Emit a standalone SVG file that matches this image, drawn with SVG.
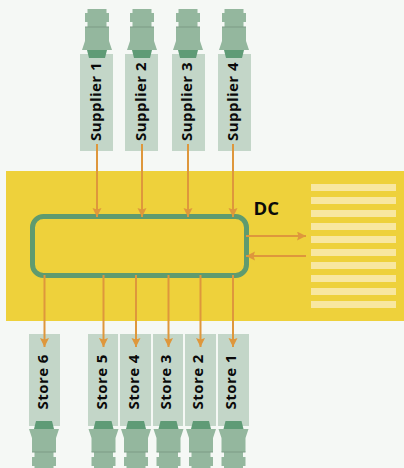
<svg xmlns="http://www.w3.org/2000/svg" width="404" height="468" viewBox="0 0 404 468">
<style>
.bg{fill:#f5f8f5}
.yard{fill:#eed13b}
.stripe{fill:#f8e7a0}
.box{fill:#c3d6c8}
.dock{fill:none;stroke:#5f9b6f;stroke-width:5}
.t{fill:#94b79e}
.c{fill:#5f9b76}
.l{fill:none;stroke:#7d9b85;stroke-width:1}
.lab{font:700 15px "Open Sans","Noto Sans",sans-serif;fill:#0a0a0a;letter-spacing:.45px}
.dc{font:700 18.500px "Open Sans","Noto Sans",sans-serif;fill:#0a0a0a}
.a{fill:none;stroke:#de973c;stroke-width:2;marker-end:url(#ah)}
</style>
<defs>
<marker id="ah" markerUnits="userSpaceOnUse" markerWidth="10" markerHeight="10" refX="9" refY="4.500" orient="auto"><path d="M0 0L9 4.500L0 9L1.500 4.500Z" fill="#de973c"/></marker>
<g id="truck">
<path class="t" d="M-9.500 9H9.500V13H12V22H9.500V27H-9.500V22H-12V13H-9.500Z"/>
<path class="t" d="M-12 27H12V41L15 50H-15L-12 41Z"/>
<path class="c" d="M-10 50H10L8 58H-8Z"/>
<path class="l" d="M-12 27H12"/>
</g>
</defs>
<rect class="bg" width="404" height="468"/>
<g id="dc">
<rect class="yard" x="6" y="171" width="398" height="150"/>
<rect class="stripe" x="311" y="184" width="85" height="7"/>
<rect class="stripe" x="311" y="197" width="85" height="7"/>
<rect class="stripe" x="311" y="210" width="85" height="7"/>
<rect class="stripe" x="311" y="223" width="85" height="7"/>
<rect class="stripe" x="311" y="236" width="85" height="7"/>
<rect class="stripe" x="311" y="249" width="85" height="7"/>
<rect class="stripe" x="311" y="262" width="85" height="7"/>
<rect class="stripe" x="311" y="275" width="85" height="7"/>
<rect class="stripe" x="311" y="288" width="85" height="7"/>
<rect class="stripe" x="311" y="301" width="85" height="7"/>
<rect class="dock" x="32.500" y="216.500" width="214" height="59" rx="11"/>
<text class="dc" x="253.500" y="215">DC</text>
</g>
<g id="supplier1"><rect class="box" x="80" y="54" width="33" height="97"/><use href="#truck" transform="translate(97,0)"/><text class="lab" transform="translate(100.500,141) rotate(-90)">Supplier 1</text></g>
<g id="supplier2"><rect class="box" x="125" y="54" width="33" height="97"/><use href="#truck" transform="translate(142,0)"/><text class="lab" transform="translate(145.500,141) rotate(-90)">Supplier 2</text></g>
<g id="supplier3"><rect class="box" x="172" y="54" width="33" height="97"/><use href="#truck" transform="translate(188,0)"/><text class="lab" transform="translate(191.500,141) rotate(-90)">Supplier 3</text></g>
<g id="supplier4"><rect class="box" x="218" y="54" width="33" height="97"/><use href="#truck" transform="translate(234,0)"/><text class="lab" transform="translate(237.500,141) rotate(-90)">Supplier 4</text></g>
<g id="store6"><rect class="box" x="29" y="334" width="31" height="92"/><use href="#truck" transform="translate(44,479) scale(1,-1)"/><text class="lab" transform="translate(48,409.500) rotate(-90)">Store 6</text></g>
<g id="store5"><rect class="box" x="88" y="334" width="30" height="92"/><use href="#truck" transform="translate(103.500,479) scale(1,-1)"/><text class="lab" transform="translate(106.500,409.500) rotate(-90)">Store 5</text></g>
<g id="store4"><rect class="box" x="120" y="334" width="31" height="92"/><use href="#truck" transform="translate(136,479) scale(1,-1)"/><text class="lab" transform="translate(138.500,409.500) rotate(-90)">Store 4</text></g>
<g id="store3"><rect class="box" x="153" y="334" width="30" height="92"/><use href="#truck" transform="translate(168.500,479) scale(1,-1)"/><text class="lab" transform="translate(171,409.500) rotate(-90)">Store 3</text></g>
<g id="store2"><rect class="box" x="185" y="334" width="31" height="92"/><use href="#truck" transform="translate(201,479) scale(1,-1)"/><text class="lab" transform="translate(203,409.500) rotate(-90)">Store 2</text></g>
<g id="store1"><rect class="box" x="218" y="334" width="31" height="92"/><use href="#truck" transform="translate(233.500,479) scale(1,-1)"/><text class="lab" transform="translate(235.500,409.500) rotate(-90)">Store 1</text></g>
<g id="connectors">
<path class="a" d="M97 144V217"/>
<path class="a" d="M142 144V217"/>
<path class="a" d="M188 144V217"/>
<path class="a" d="M233 144V217"/>
<path class="a" d="M44.500 275V347"/>
<path class="a" d="M103.500 275V347"/>
<path class="a" d="M136 275V347"/>
<path class="a" d="M168.500 275V347"/>
<path class="a" d="M200.500 275V347"/>
<path class="a" d="M233 275V347"/>
<path class="a" d="M246 236H306"/>
<path class="a" d="M306 256H246"/>
</g>
</svg>
